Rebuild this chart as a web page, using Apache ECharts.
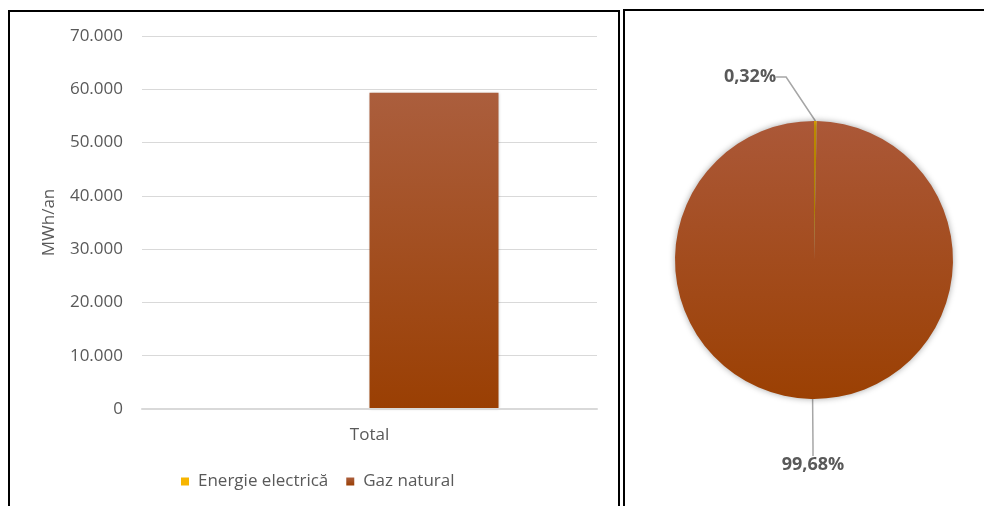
<!DOCTYPE html>
<html>
<head>
<meta charset="utf-8">
<script src="https://cdn.jsdelivr.net/npm/echarts@6/dist/echarts.min.js"></script>
<style>html,body{margin:0;padding:0;background:#fff;}#c{width:984px;height:506px;}</style>
</head>
<body>
<div id="c"></div>
<script>
const categories = ['Total'];
const seriesNames = ['Energie electrică', 'Gaz natural'];
const electricValues = [190];
const gasValues = [59340];
const pieShares = [0.32, 99.68];
const yTicks = [0, 10000, 20000, 30000, 40000, 50000, 60000, 70000];

const FONT = 'Open Sans';
const brownGrad = new echarts.graphic.LinearGradient(0, 0, 0, 1, [
  {offset: 0, color: '#ab5e3d'}, {offset: 1, color: '#9a3f03'}
]);
const pieGrad = new echarts.graphic.LinearGradient(0, 0, 0, 1, [
  {offset: 0, color: '#ab5838'}, {offset: 1, color: '#9b4003'}
]);
const yellow = '#f7b500';

const chart = echarts.init(document.getElementById('c'));
chart.setOption({
  animation: false,
  textStyle: {fontFamily: FONT},
  graphic: [
    {type: 'rect', shape: {x: 9, y: 11, width: 610, height: 520}, style: {fill: 'none', stroke: '#000', lineWidth: 2}},
    {type: 'rect', shape: {x: 624, y: 10, width: 400, height: 520}, style: {fill: 'none', stroke: '#000', lineWidth: 2}}
  ],
  legend: {
    left: 176, top: 468,
    itemWidth: 8, itemHeight: 8, itemGap: 18, icon: 'rect',
    textStyle: {color: '#595959', fontSize: 17, fontFamily: FONT, padding: [0, 0, 0, 4]},
    data: seriesNames
  },
  grid: {left: 142, right: 387, top: 36, bottom: 97, containLabel: false},
  xAxis: {
    type: 'category', data: categories, z: 5,
    axisTick: {show: false},
    axisLine: {lineStyle: {color: '#d9d9d9', width: 2}},
    axisLabel: {color: '#595959', fontSize: 17, margin: 18}
  },
  yAxis: {
    type: 'value', min: yTicks[0], max: yTicks[yTicks.length - 1], interval: 10000,
    name: 'MWh/an', nameLocation: 'middle', nameGap: 84, nameRotate: 90,
    nameTextStyle: {color: '#595959', fontSize: 17},
    axisLine: {show: false}, axisTick: {show: false},
    splitLine: {lineStyle: {color: '#d9d9d9', width: 1}},
    axisLabel: {color: '#595959', fontSize: 17, margin: 19,
      formatter: v => v === 0 ? '0' : v.toLocaleString('de-DE')}
  },
  series: [
    {name: seriesNames[0], type: 'bar', data: electricValues, barWidth: 129, barGap: '0%', itemStyle: {color: yellow}},
    {name: seriesNames[1], type: 'bar', data: gasValues, barWidth: 129, itemStyle: {color: brownGrad, shadowBlur: 3, shadowColor: 'rgba(0,0,0,0.25)'}},
    {
      type: 'pie', center: [814, 260], radius: 139, startAngle: 90, clockwise: true,
      data: [
        {name: seriesNames[0], value: pieShares[0], itemStyle: {color: yellow}},
        {name: seriesNames[1], value: pieShares[1], itemStyle: {color: pieGrad}}
      ],
      itemStyle: {shadowBlur: 6, shadowColor: 'rgba(0,0,0,0.35)'},
      label: {
        show: true, position: 'outside', color: '#595959', fontWeight: 'bold', fontSize: 18,
        formatter: p => p.value.toFixed(2).replace('.', ',') + '%'
      },
      labelLine: {show: true, length: 20, length2: 10, lineStyle: {color: '#a6a6a6', width: 1.5}},
      labelLayout: function (p) {
        if (p.dataIndex === 0) return {x: 750, y: 77, align: 'center', verticalAlign: 'middle'};
        return {x: 813, y: 465, align: 'center', verticalAlign: 'middle'};
      }
    }
  ]
});
</script>
</body>
</html>
